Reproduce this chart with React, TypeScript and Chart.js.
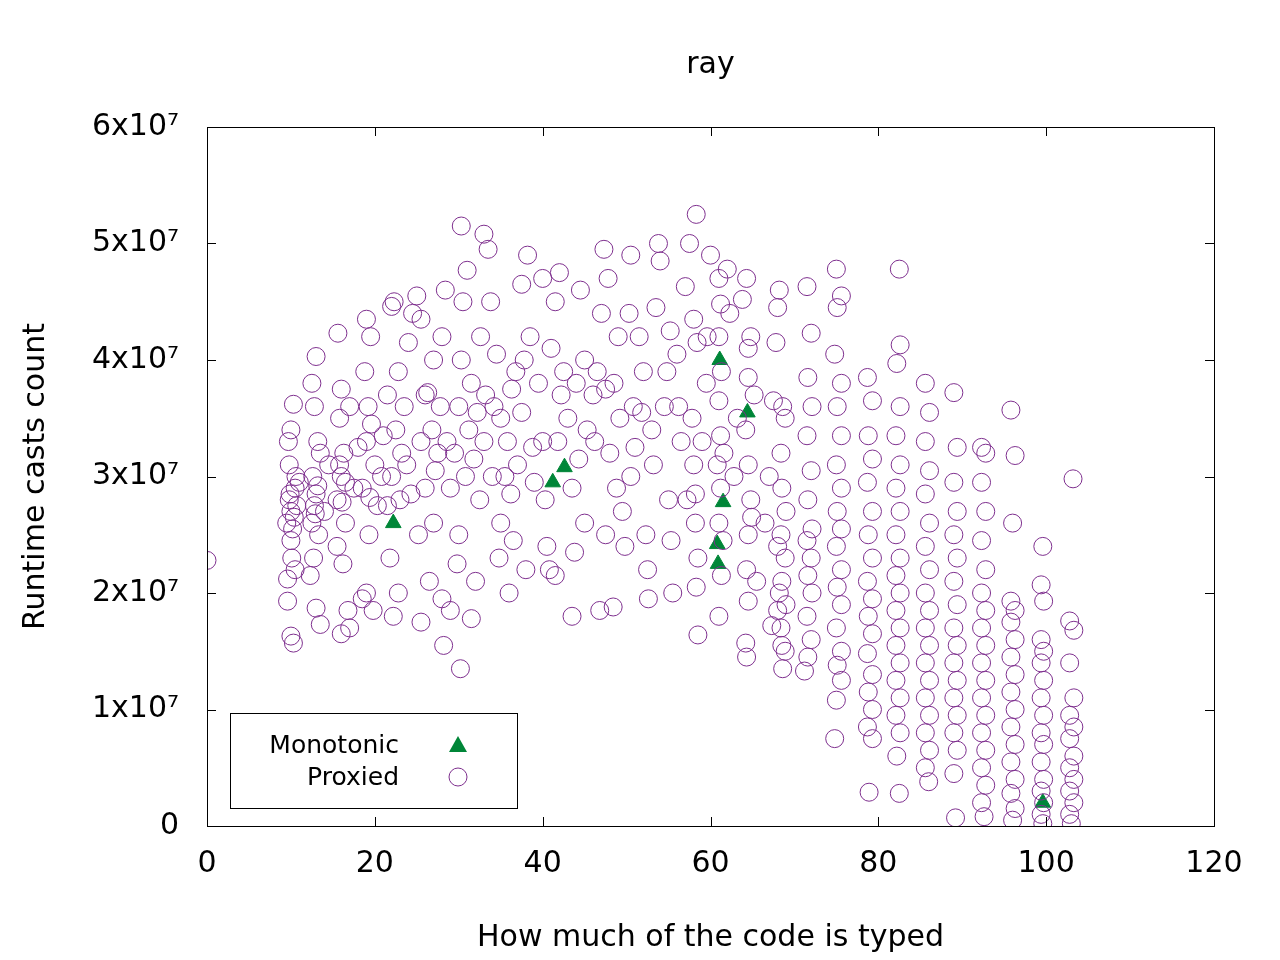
import React, { useEffect, useRef } from "react";
import { Chart, registerables } from "chart.js";
Chart.register(...registerables);

const TITLE = "ray";
const X_LABEL = "How much of the code is typed";
const Y_LABEL = "Runtime casts count";
const Y_TICKS = ["0", "1x10⁷", "2x10⁷", "3x10⁷", "4x10⁷", "5x10⁷", "6x10⁷"];

// values in units of 1e7
const monotonic: number[][] = [
  [22.2, 2.6], [41.2, 2.95], [42.6, 3.08], [61.1, 4.0], [64.4, 3.55], [61.5, 2.78], [60.9, 2.25], [60.8, 2.42], [99.6, 0.2],
];

const proxiedLeft: number[][] = [
  [0, 2.28],
  [9.5, 2.6], [9.8, 2.8], [10, 2.7], [10.2, 2.55], [10.5, 2.9], [9.7, 3.3], [10, 3.4], [10.3, 3.62], [9.8, 3.1], [10.1, 2.3], [9.6, 1.93], [10, 1.63], [10.3, 1.57], [10.5, 2.2], [10, 2.45], [9.6, 2.12], [10.6, 3.0], [10.4, 2.65], [9.9, 2.85], [10.7, 2.75],
  [12.5, 2.6], [12.8, 2.75], [13, 2.85], [12.6, 3.0], [13.2, 3.3], [12.8, 3.6], [13, 4.03], [12.5, 3.8], [13.3, 2.5], [12.3, 2.15], [13, 1.87], [12.7, 2.3], [13.5, 3.2], [13.5, 1.73], [12.9, 2.68], [13.2, 2.92],
  [15.5, 2.8], [16, 3.0], [16.3, 3.2], [15.8, 3.5], [16, 3.75], [15.6, 4.23], [16.5, 2.6], [16.2, 2.25], [16, 1.65], [17, 1.7], [16.8, 1.85], [15.5, 2.4], [17, 3.6], [16.5, 2.95], [16.1, 2.78], [15.8, 3.1],
  [18.5, 2.9], [19, 3.3], [19.2, 3.6], [18.8, 3.9], [19, 4.35], [19.5, 4.2], [19.3, 2.5], [19, 2.0], [19.8, 1.85], [18.5, 1.95], [20, 3.1], [20.3, 2.75], [19.6, 3.45], [19.4, 2.82],
  [21.5, 3.7], [22, 4.46], [22.3, 4.5], [22.8, 3.9], [22.5, 3.4], [22, 3.0], [21.8, 2.3], [22.2, 1.8], [22.8, 2.0], [23, 2.8], [23.5, 3.6], [24, 4.15], [24.5, 4.4], [23.2, 3.2], [21.5, 2.75],
  [25, 4.55], [25.5, 4.35], [26, 3.7], [25.5, 3.3], [26, 2.9], [25.2, 2.5], [26.5, 2.1], [27, 2.6], [27.5, 3.2], [27.8, 3.6], [27, 4.0], [28, 4.2], [28.4, 4.6], [28, 1.95], [25.5, 1.75], [28.2, 1.55], [29, 1.85], [26.3, 3.72], [27.2, 3.05],
  [29.5, 3.2], [30, 3.6], [30.3, 4.0], [30.5, 4.5], [30.3, 5.15], [31, 4.77], [31.5, 3.8], [30.8, 3.0], [30, 2.5], [29.8, 2.25], [30.2, 1.35], [31.5, 1.78], [32, 2.1], [32.5, 2.8], [33, 3.3], [33.2, 3.7], [33, 5.08], [33.5, 4.95], [33.8, 4.5], [32.6, 4.2], [31.2, 3.4], [32.2, 3.55],
  [34.5, 4.05], [35, 3.5], [35.5, 3.0], [35, 2.6], [34.8, 2.3], [36, 2.0], [36.5, 2.45], [37, 3.1], [37.5, 3.55], [37.8, 4.0], [37.5, 4.65], [38.2, 4.9], [38.5, 4.2], [36.3, 3.75], [38, 2.2], [35.8, 3.3], [36.8, 3.9],
  [39.5, 3.8], [40, 3.3], [40.3, 2.8], [40.5, 2.4], [40.8, 2.2], [41.5, 2.15], [41, 4.1], [41.5, 4.5], [42, 4.75], [42.5, 3.9], [43, 3.5], [43.5, 2.9], [43.8, 2.35], [43.5, 1.8], [40, 4.7], [44.5, 4.6], [45, 4.0], [45.3, 3.4], [45, 2.6], [42.2, 3.7], [44, 3.8],
  [46, 3.7], [46.5, 3.9], [47, 4.4], [47.3, 4.95], [47.8, 4.7], [47.5, 2.5], [46.8, 1.85], [48.4, 1.88], [48, 3.2], [48.5, 3.8], [49, 4.2], [49.5, 2.7], [49.8, 2.4], [50.5, 4.9], [50.3, 4.4], [50.8, 3.6], [50.5, 3.0], [47.5, 3.75], [49.2, 3.5],
  [51.5, 4.2], [52, 3.9], [52.3, 2.5], [52.5, 2.2], [52.6, 1.95], [53, 3.4], [53.5, 4.45], [53.8, 5.0], [54, 4.85], [54.5, 3.6], [55, 2.8], [55.3, 2.45], [55.5, 2.0], [55.2, 4.25], [56, 4.05], [56.5, 3.3], [54.8, 3.9],
  [57, 4.63], [57.5, 5.0], [58.3, 5.25], [58, 4.35], [58.4, 4.15], [57.8, 3.5], [58, 3.1], [58.2, 2.6], [58.5, 2.3], [58.3, 2.05], [58.5, 1.64], [59.5, 3.8], [60, 4.9], [59.6, 4.2], [58.2, 2.85],
  [61, 4.7], [61.2, 4.48], [61, 4.2], [61.3, 3.9], [61, 3.65], [61.2, 3.35], [60.8, 3.1], [61.2, 2.9], [61, 2.6], [61.5, 2.45], [61.3, 2.15], [61, 1.8], [62, 4.78], [62.3, 4.4], [61.6, 3.2],
  [64.3, 4.7], [64.5, 4.1], [64.8, 4.2], [64.5, 3.85], [64.2, 3.4], [64.5, 3.1], [64.8, 2.8], [64.5, 2.5], [64.3, 2.2], [64.5, 1.93], [64.2, 1.57], [64.3, 1.45], [63.8, 4.52], [65.2, 3.7], [65.5, 2.1], [64.9, 2.65],
  [66.5, 2.6], [67, 3.0], [67.5, 3.65], [67.8, 4.15], [68, 4.45], [68.2, 4.6], [68, 2.4], [68.2, 2.0], [68.5, 1.55], [68, 1.85], [67.3, 1.72], [68.6, 3.6],
  // denser core band
  [11, 2.95], [14, 2.7], [14.5, 3.1], [17.5, 2.9], [18, 3.25], [20.8, 3.0], [21, 3.35], [23.8, 3.1], [24.3, 2.85], [26.8, 3.4], [28.6, 3.3], [29, 2.9], [31.8, 3.15], [34, 3.0], [34.2, 3.6], [36.2, 2.85], [38.8, 3.25], [39, 2.95], [41.8, 3.3], [44.3, 3.15], [46.2, 3.3], [48.8, 2.9], [51, 3.25], [51.8, 3.55], [53.2, 3.1], [56.2, 3.6], [57.2, 2.8], [59, 3.3], [62.8, 3.0], [63.2, 3.5],
];

const proxiedRight: number[][] = [
  [68.4, 3.2], [68.9, 3.5], [68.5, 2.9], [69, 2.7], [68.4, 2.5], [68.9, 2.3], [68.5, 2.1], [69, 1.9], [68.4, 1.7], [68.9, 1.5], [68.6, 1.35],
  [71.5, 4.63], [72, 4.23], [71.6, 3.85], [72.1, 3.6], [71.5, 3.35], [72, 3.05], [71.6, 2.8], [72.1, 2.55], [71.5, 2.45], [72, 2.3], [71.6, 2.15], [72.1, 2.0], [71.5, 1.8], [72, 1.6], [71.6, 1.45], [71.2, 1.33],
  [75, 4.78], [75.6, 4.55], [75.1, 4.45], [74.8, 4.05], [75.6, 3.8], [75.1, 3.6], [75.6, 3.35], [75, 3.1], [75.6, 2.9], [75.1, 2.7], [75.6, 2.55], [75, 2.4], [75.6, 2.2], [75.1, 2.05], [75.6, 1.9], [75, 1.7], [75.6, 1.5], [75.1, 1.38], [75.6, 1.25], [75, 1.08], [74.8, 0.75],
  [78.7, 3.85], [79.3, 3.65], [78.8, 3.35], [79.3, 3.15], [78.7, 2.95], [79.3, 2.7], [78.8, 2.5], [79.3, 2.3], [78.7, 2.1], [79.3, 1.95], [78.8, 1.8], [79.3, 1.65], [78.7, 1.48], [79.3, 1.3], [78.8, 1.15], [79.3, 1.0], [78.7, 0.85], [79.3, 0.75], [78.9, 0.29],
  [82.5, 4.78], [82.6, 4.13], [82.2, 3.97], [82.6, 3.6], [82.1, 3.35], [82.6, 3.1], [82.1, 2.9], [82.6, 2.7], [82.1, 2.5], [82.6, 2.3], [82.1, 2.15], [82.6, 2.0], [82.1, 1.85], [82.6, 1.7], [82.1, 1.55], [82.6, 1.4], [82.1, 1.25], [82.6, 1.1], [82.1, 0.95], [82.6, 0.8], [82.2, 0.6], [82.5, 0.28],
  [85.6, 3.8], [86.1, 3.55], [85.6, 3.3], [86.1, 3.05], [85.6, 2.85], [86.1, 2.6], [85.6, 2.4], [86.1, 2.2], [85.6, 2.0], [86.1, 1.85], [85.6, 1.7], [86.1, 1.55], [85.6, 1.4], [86.1, 1.25], [85.6, 1.1], [86.1, 0.95], [85.6, 0.8], [86.1, 0.65], [85.6, 0.5], [86, 0.38],
  [89, 3.72], [89.4, 3.25], [89, 2.95], [89.4, 2.7], [89, 2.5], [89.4, 2.3], [89, 2.1], [89.4, 1.9], [89, 1.7], [89.4, 1.55], [89, 1.4], [89.4, 1.25], [89, 1.1], [89.4, 0.95], [89, 0.8], [89.4, 0.65], [89, 0.45], [89.2, 0.07],
  [92.3, 3.25], [92.8, 3.2], [92.3, 2.95], [92.8, 2.7], [92.3, 2.45], [92.8, 2.2], [92.3, 2.0], [92.8, 1.85], [92.3, 1.7], [92.8, 1.55], [92.3, 1.4], [92.8, 1.25], [92.3, 1.1], [92.8, 0.95], [92.3, 0.8], [92.8, 0.65], [92.3, 0.5], [92.8, 0.35], [92.3, 0.2], [92.6, 0.08],
  [95.8, 3.57], [96.3, 3.18], [96, 2.6], [95.8, 1.93], [96.3, 1.85], [95.8, 1.75], [96.3, 1.6], [95.8, 1.45], [96.3, 1.3], [95.8, 1.15], [96.3, 1.0], [95.8, 0.85], [96.3, 0.7], [95.8, 0.55], [96.3, 0.4], [95.8, 0.28], [96.3, 0.15], [96, 0.05],
  [99.6, 2.4], [99.4, 2.07], [99.7, 1.93], [99.4, 1.6], [99.7, 1.5], [99.4, 1.4], [99.7, 1.25], [99.4, 1.1], [99.7, 0.95], [99.4, 0.8], [99.7, 0.7], [99.4, 0.55], [99.7, 0.4], [99.4, 0.3], [99.7, 0.2], [99.4, 0.1], [99.6, 0.02],
  [103.2, 2.98], [102.8, 1.76], [103.3, 1.68], [102.8, 1.4], [103.3, 1.1], [102.8, 0.95], [103.3, 0.85], [102.8, 0.75], [103.3, 0.6], [102.8, 0.5], [103.3, 0.4], [102.8, 0.3], [103.3, 0.2], [102.8, 0.1], [103, 0.02],
];

const PURPLE = "rgb(126,47,142)";
const GREEN = "rgb(0,134,56)";
const FONT = "'DejaVu Sans', sans-serif";

const toPts = (a: number[][]) => a.map(([x, y]) => ({ x, y: y * 1e7 }));

const framePlugin = {
  id: "frame",
  afterDraw(chart: any) {
    const { ctx, chartArea: a, scales } = chart;
    ctx.save();
    ctx.strokeStyle = "#000";
    ctx.lineWidth = 1;
    ctx.strokeRect(a.left + 0.5, a.top + 0.5, a.right - a.left, a.bottom - a.top);
    const L = 9;
    ctx.beginPath();
    scales.x.ticks.forEach((t: any) => {
      const px = Math.round(scales.x.getPixelForValue(t.value)) + 0.5;
      ctx.moveTo(px, a.bottom); ctx.lineTo(px, a.bottom - L);
      ctx.moveTo(px, a.top); ctx.lineTo(px, a.top + L);
    });
    scales.y.ticks.forEach((t: any) => {
      const py = Math.round(scales.y.getPixelForValue(t.value)) + 0.5;
      ctx.moveTo(a.left, py); ctx.lineTo(a.left + L, py);
      ctx.moveTo(a.right, py); ctx.lineTo(a.right - L, py);
    });
    ctx.stroke();
    ctx.fillStyle = "#000";
    ctx.font = `30px ${FONT}`;
    ctx.textAlign = "center";
    ctx.textBaseline = "middle";
    ctx.fillText(TITLE, (a.left + a.right) / 2, 65);
    const lx = 230, ly = 713, lw = 287, lh = 95;
    ctx.fillStyle = "#fff";
    ctx.fillRect(lx, ly, lw, lh);
    ctx.strokeRect(lx + 0.5, ly + 0.5, lw, lh);
    ctx.fillStyle = "#000";
    ctx.font = `25px ${FONT}`;
    ctx.textAlign = "right";
    ctx.fillText("Monotonic", 399, 746);
    ctx.fillText("Proxied", 399, 778);
    ctx.fillStyle = GREEN;
    ctx.beginPath();
    ctx.moveTo(458, 736); ctx.lineTo(467, 752); ctx.lineTo(449, 752); ctx.closePath();
    ctx.fill();
    ctx.strokeStyle = PURPLE;
    ctx.beginPath();
    ctx.arc(458, 777, 9, 0, Math.PI * 2);
    ctx.stroke();
    ctx.restore();
  },
};

export default function App() {
  const ref = useRef<HTMLCanvasElement>(null);
  useEffect(() => {
    document.body.style.margin = "0";
    const chart = new Chart(ref.current!, {
      type: "scatter",
      data: {
        datasets: [
          {
            label: "Proxied",
            data: toPts([...proxiedLeft, ...proxiedRight]),
            pointStyle: "circle",
            pointRadius: 9,
            borderColor: PURPLE,
            backgroundColor: "rgba(0,0,0,0)",
            borderWidth: 1,
          },
          {
            label: "Monotonic",
            data: toPts(monotonic),
            pointStyle: "triangle",
            pointRadius: 9,
            borderColor: GREEN,
            backgroundColor: GREEN,
            borderWidth: 1,
          },
        ],
      },
      options: {
        animation: false,
        responsive: false,
        layout: { padding: { left: 0, top: 127, right: 66, bottom: 0 } },
        plugins: { legend: { display: false }, title: { display: false }, tooltip: { enabled: false } },
        scales: {
          x: {
            min: 0, max: 120,
            ticks: { stepSize: 20, color: "#000", font: { size: 30, family: FONT }, padding: 12, maxRotation: 0 },
            grid: { display: false },
            border: { display: false },
            title: { display: true, text: X_LABEL, color: "#000", font: { size: 30, family: FONT }, padding: { top: 16 } },
            afterFit: (s: any) => { s.height = 134; },
          },
          y: {
            min: 0, max: 6e7,
            ticks: {
              stepSize: 1e7, color: "#000", font: { size: 30, family: FONT }, padding: 20,
              callback: (v: any) => Y_TICKS[Math.round(Number(v) / 1e7)],
            },
            grid: { display: false },
            border: { display: false },
            title: { display: true, text: Y_LABEL, color: "#000", font: { size: 30, family: FONT }, padding: { top: 18, bottom: 0 } },
            afterFit: (s: any) => { s.width = 207; },
          },
        },
      },
      plugins: [framePlugin],
    });
    return () => chart.destroy();
  }, []);
  return <canvas ref={ref} width={1280} height={960} style={{ display: "block" }} />;
}
